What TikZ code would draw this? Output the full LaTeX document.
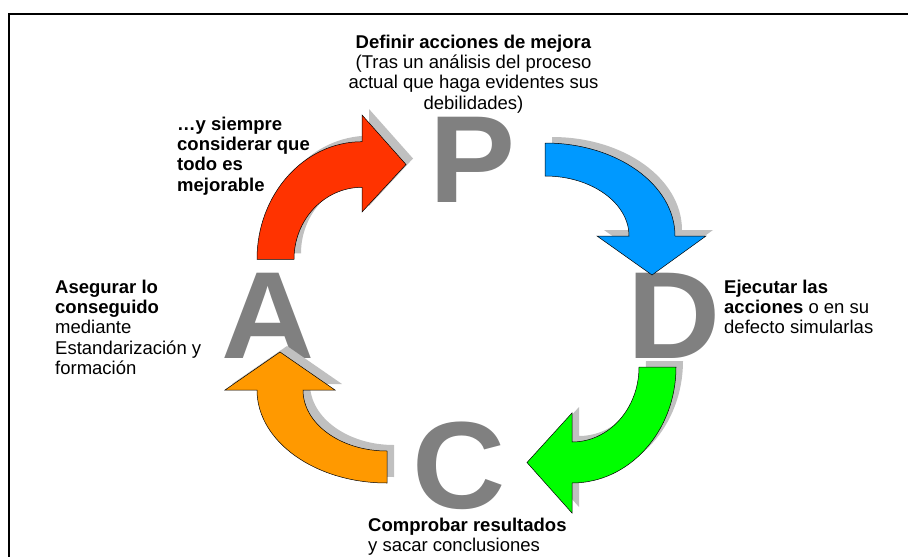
\documentclass[tikz,border=0pt]{standalone}
\usepackage{fontspec}
\setmainfont{Liberation Sans}

\definecolor{pdcared}{HTML}{FF3300}
\definecolor{pdcablue}{HTML}{0099FF}
\definecolor{pdcagreen}{HTML}{00FF00}
\definecolor{pdcaorange}{HTML}{FF9900}
\definecolor{lettergray}{HTML}{808080}
\definecolor{shadowgray}{HTML}{C0C0C0}

\tikzset{
  bigletter/.style={font=\fontsize{124}{124}\selectfont\bfseries, text=lettergray,
    inner sep=0pt, anchor=base, xscale=1.04, text height=86pt, text depth=0pt},
  phasetext/.style={font=\fontsize{18.5}{20.3}\selectfont, inner sep=0pt, align=left},
  cyclearrow/.style={draw=black, line width=0.5pt,
    preaction={fill=shadowgray, draw=none, transform canvas={shift={(7pt,6pt)}}}}
}

\begin{document}
\begin{tikzpicture}[x=1pt,y=1pt]
\useasboundingbox (0,0) rectangle (908,-557);
\draw[line width=2pt] (908,-14) -- (9,-14) -- (9,-557);

% letras del ciclo
\node[bigletter] (P) at (473,-202.5) {P};
\node[bigletter] (D) at (674,-358.8) {D};
\node[bigletter] (C) at (459,-508) {C};
\node[bigletter] (A) at (268,-358.8) {A};

% flechas
\filldraw[cyclearrow, fill=pdcared] (257,-259.3)
  arc[start angle=180, end angle=90, x radius=105, y radius=117.6]
  -- (362,-115) -- (406,-164.5) -- (362,-212) -- (362,-187.3)
  arc[start angle=90, end angle=180, x radius=68, y radius=72] -- cycle;
\filldraw[cyclearrow, fill=pdcablue] (545,-143)
  arc[start angle=90, end angle=0, x radius=130, y radius=93]
  -- (706,-236) -- (652,-275) -- (597,-236) -- (629,-236)
  arc[start angle=0, end angle=90, x radius=84, y radius=60] -- cycle;
\filldraw[cyclearrow, fill=pdcagreen] (639,-367) -- (676,-367)
  arc[start angle=0, end angle=-90, x radius=104, y radius=116]
  -- (572,-513) -- (527,-462.5) -- (572,-413) -- (572,-442)
  arc[start angle=-90, end angle=0, x radius=67, y radius=75] -- cycle;
\filldraw[cyclearrow, fill=pdcaorange] (387,-451) -- (387,-483)
  arc[start angle=270, end angle=180, x radius=130, y radius=93]
  -- (225,-390) -- (280,-352) -- (335,-390) -- (303,-390)
  arc[start angle=180, end angle=270, x radius=84, y radius=61] -- cycle;

% textos
\node[phasetext, align=center, anchor=north] (planTxt) at (473.5,-34.5)
  {\textbf{Definir acciones de mejora}\\(Tras un análisis del proceso\\actual que haga evidentes sus\\debilidades)};
\node[phasetext, anchor=north west] (mejoraTxt) at (177,-116.5)
  {\textbf{…y siempre}\\\textbf{considerar que}\\\textbf{todo es}\\\textbf{mejorable}};
\node[phasetext, anchor=north west] (actTxt) at (55,-279.5)
  {\textbf{Asegurar lo}\\\textbf{conseguido}\\mediante\\Estandarización y\\formación};
\node[phasetext, anchor=north west] (doTxt) at (724,-279.5)
  {\textbf{Ejecutar las}\\\textbf{acciones} o en su\\defecto simularlas};
\node[phasetext, anchor=north west] (checkTxt) at (368,-517.5)
  {\textbf{Comprobar resultados}\\y sacar conclusiones};
\end{tikzpicture}
\end{document}
